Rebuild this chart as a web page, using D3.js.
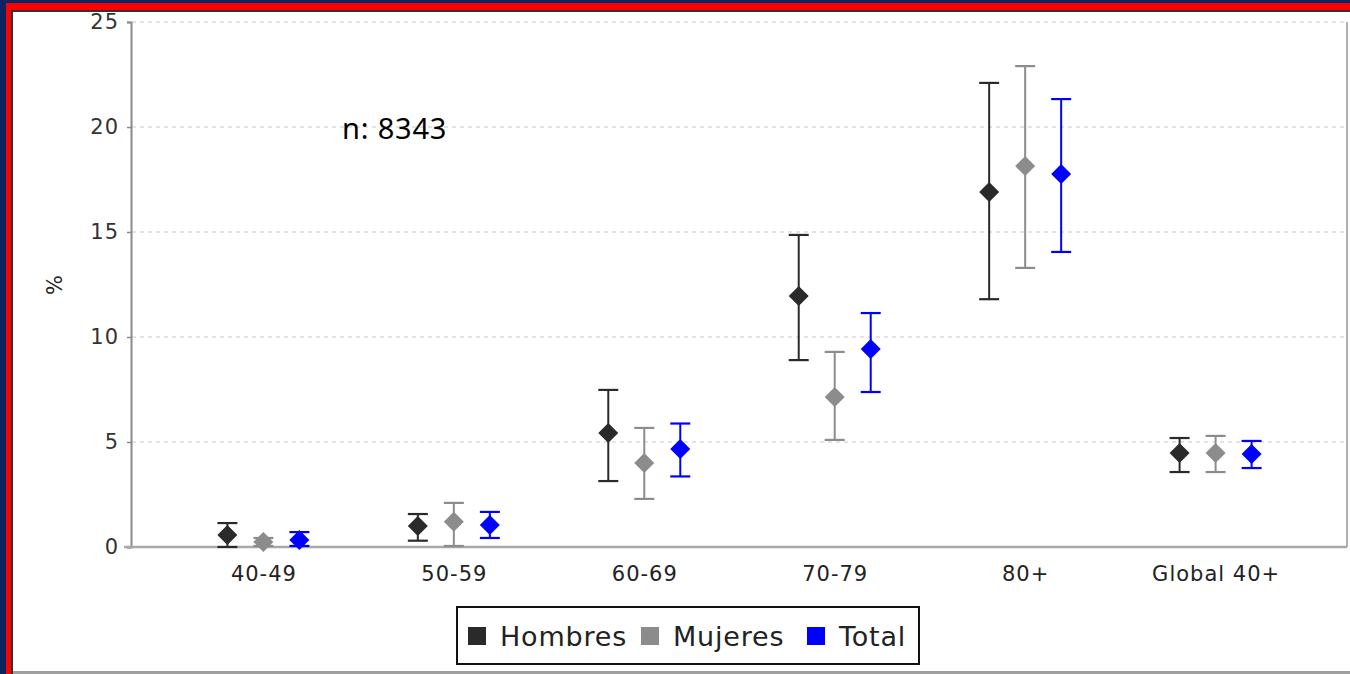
<!DOCTYPE html>
<html><head><meta charset="utf-8">
<script src="https://cdn.jsdelivr.net/npm/d3@7/dist/d3.min.js"></script>
<style>
html,body{margin:0;padding:0;background:#fff;}
svg{display:block;}
</style></head>
<body>
<svg id="chart" width="1350" height="674"></svg>
<script>
const categories = ["40-49","50-59","60-69","70-79","80+","Global 40+"];
const series = ["Hombres","Mujeres","Total"];
const colors = ["#2a2a2a","#8c8c8c","#0000ff"];
const hombresVal = [0.57, 1.0, 5.43, 11.95, 16.9, 4.48];
const hombresLow = [0.0, 0.3, 3.14, 8.9, 11.8, 3.57];
const hombresHigh = [1.14, 1.57, 7.48, 14.86, 22.1, 5.19];
const mujeresVal = [0.24, 1.2, 4.0, 7.14, 18.14, 4.48];
const mujeresLow = [0.05, 0.05, 2.29, 5.1, 13.29, 3.57];
const mujeresHigh = [0.43, 2.1, 5.67, 9.29, 22.9, 5.29];
const totalVal = [0.33, 1.05, 4.67, 9.43, 17.76, 4.43];
const totalLow = [0.05, 0.43, 3.36, 7.38, 14.05, 3.76];
const totalHigh = [0.71, 1.67, 5.88, 11.14, 21.33, 5.05];
const yTicks = [0,5,10,15,20,25];
const annotation = "n: 8343";
const yLabel = "%";

const svg = d3.select("#chart");
// outer frame
svg.append("rect").attr("x",0).attr("y",0).attr("width",1350).attr("height",674).attr("fill","#0c2560");
svg.append("rect").attr("x",6).attr("y",3).attr("width",1344).attr("height",671).attr("fill","#ff0000");
svg.append("rect").attr("x",11).attr("y",10).attr("width",1339).attr("height",664).attr("fill","#333");
svg.append("rect").attr("x",13).attr("y",12).attr("width",1337).attr("height",660).attr("fill","#fff");
svg.append("rect").attr("x",13).attr("y",671).attr("width",1337).attr("height",3).attr("fill","#a0a0a0");

const L=132, R=1347, T=22, B=547;
const x = d3.scalePoint().domain(categories).range([L,R]).padding(0.69);
const off = d3.scalePoint().domain(series).range([-36,36]);
const y = d3.scaleLinear().domain([0,25]).range([B,T]);

// grid
svg.append("g").selectAll("line").data(yTicks.filter(d=>d>0)).join("line")
  .attr("x1",L).attr("x2",R).attr("y1",d=>y(d)).attr("y2",d=>y(d))
  .attr("stroke","#c8c8c8").attr("stroke-width",1.2).attr("stroke-dasharray","4,4");
// right border
svg.append("line").attr("x1",R).attr("x2",R).attr("y1",T).attr("y2",B).attr("stroke","#b0b0b0").attr("stroke-width",2);

// y axis
const ya = svg.append("g").attr("transform",`translate(${L-1},0)`)
  .call(d3.axisLeft(y).tickValues(yTicks).tickSize(4).tickPadding(8));
ya.select(".domain").attr("stroke","#8a8a8a").attr("stroke-width",2);
ya.selectAll(".tick line").attr("stroke","#8a8a8a").attr("stroke-width",1.5);
ya.selectAll("text").attr("font-family","DejaVu Sans").attr("font-size",21).attr("letter-spacing",1).attr("fill","#333");

// x axis
const xa = svg.append("g").attr("transform",`translate(0,${B})`)
  .call(d3.axisBottom(x).tickSize(0).tickPadding(19));
xa.select(".domain").attr("stroke","#a8a8a8").attr("stroke-width",2.5).attr("d",`M${L-8},0H${R}`);
xa.selectAll("text").attr("font-family","DejaVu Sans").attr("font-size",21).attr("letter-spacing",1).attr("fill","#222");

svg.append("text").attr("transform","translate(62,285) rotate(-90)")
  .attr("text-anchor","middle").attr("font-family","DejaVu Sans").attr("font-size",21).attr("fill","#222").text(yLabel);

svg.append("text").attr("x",342).attr("y",139).attr("font-family","Noto Sans").attr("font-size",29).attr("letter-spacing",0.8).attr("fill","#000").text(annotation);

const data = [
  {s:"Hombres", v:hombresVal, lo:hombresLow, hi:hombresHigh, c:colors[0]},
  {s:"Mujeres", v:mujeresVal, lo:mujeresLow, hi:mujeresHigh, c:colors[1]},
  {s:"Total", v:totalVal, lo:totalLow, hi:totalHigh, c:colors[2]}
];
data.forEach(sr=>{
  const g = svg.append("g");
  categories.forEach((cat,i)=>{
    const cx = x(cat)+off(sr.s);
    g.append("line").attr("x1",cx).attr("x2",cx).attr("y1",y(sr.lo[i])).attr("y2",y(sr.hi[i])).attr("stroke",sr.c).attr("stroke-width",2);
    [sr.lo[i],sr.hi[i]].forEach(v=>{
      g.append("line").attr("x1",cx-10).attr("x2",cx+10).attr("y1",y(v)).attr("y2",y(v)).attr("stroke",sr.c).attr("stroke-width",2.2);
    });
    const cy = y(sr.v[i]);
    g.append("path").attr("d",`M${cx},${cy-10}L${cx+10},${cy}L${cx},${cy+10}L${cx-10},${cy}Z`).attr("fill",sr.c);
  });
});

// legend
const lg = svg.append("g");
lg.append("rect").attr("x",457).attr("y",607).attr("width",462).attr("height",57).attr("fill","#fff").attr("stroke","#111").attr("stroke-width",2);
const legX = [468, 641, 807];
series.forEach((s,i)=>{
  lg.append("rect").attr("x",legX[i]).attr("y",627).attr("width",18).attr("height",18).attr("fill",colors[i]);
  lg.append("text").attr("x",legX[i]+32).attr("y",646).attr("font-family","DejaVu Sans").attr("font-size",27).attr("letter-spacing",0.8).attr("fill","#222").text(s);
});
</script>
</body></html>
